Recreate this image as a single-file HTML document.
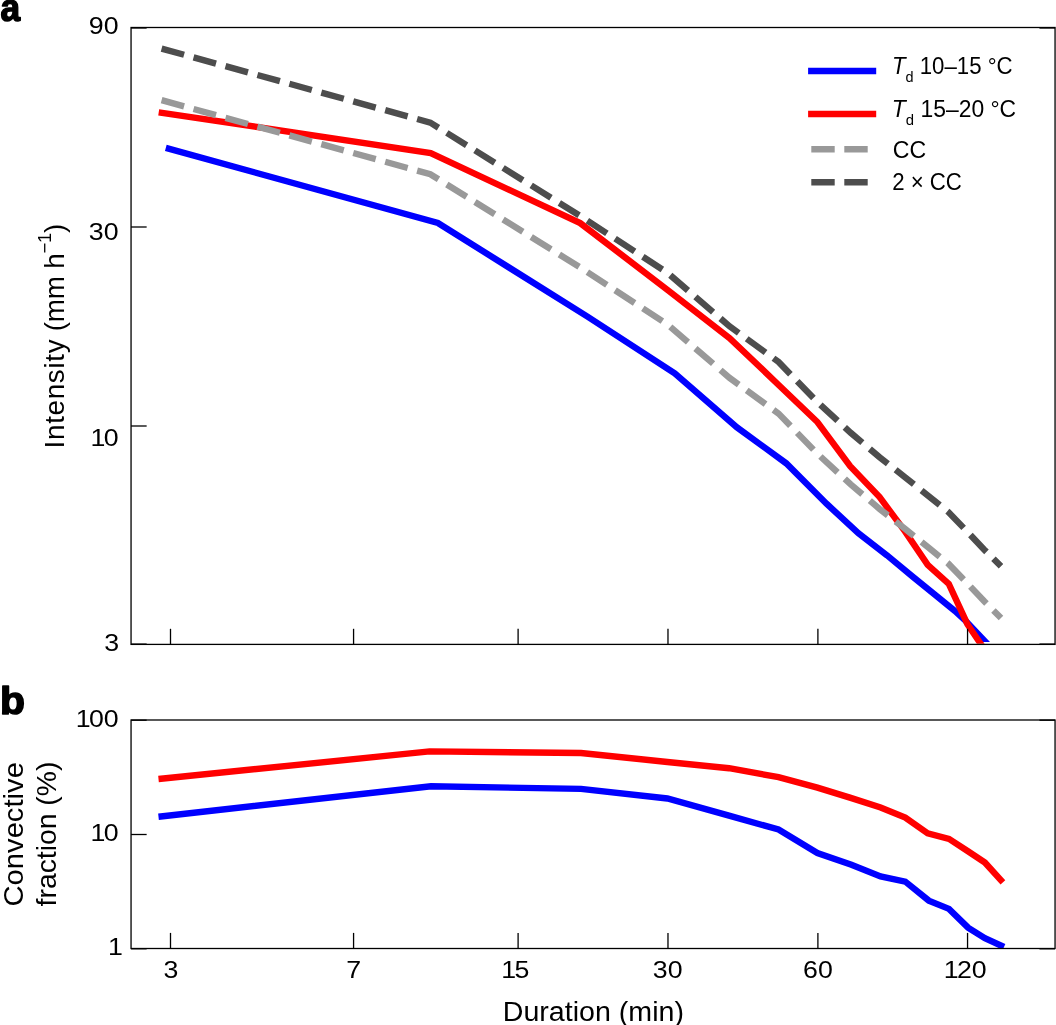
<!DOCTYPE html>
<html lang="en"><head><meta charset="utf-8"><title>Intensity and convective fraction versus duration</title>
<style>html,body{margin:0;padding:0;background:#fff;overflow:hidden}svg{display:block}text{font-family:'Liberation Sans',sans-serif;fill:#000}</style></head>
<body>
<svg width="1056" height="1025" viewBox="0 0 1056 1025">
<rect width="1056" height="1025" fill="#fff"/>
<defs><clipPath id="ca"><rect x="131.05" y="27.5" width="924.00" height="616.30"/></clipPath><clipPath id="ca2"><rect x="131.05" y="27.5" width="924.00" height="614.40"/></clipPath><clipPath id="cb"><rect x="131.05" y="720.0" width="924.00" height="227.90"/></clipPath></defs>
<g>
<polyline points="165.8,147.9 437.9,223.0 587.5,316.6 674.7,373.3 737.0,427.4 786.2,463.3 826.5,503.7 858.5,533.3 887.1,555.4 912.5,576.5 935.3,595.0 954.9,611.0 966.0,621.2 992.0,648.8" fill="none" stroke="#0000ff" stroke-width="6.4" stroke-linejoin="miter" stroke-linecap="butt" clip-path="url(#ca2)"/>
<polyline points="158.7,112.3 430.7,153.0 580.2,223.1 667.6,290.0 729.6,338.1 778.4,384.7 817.4,422.0 850.2,466.2 879.6,497.1 905.0,531.4 927.7,564.8 948.8,583.9 967.4,624.2 985.3,650.6" fill="none" stroke="#ff0000" stroke-width="6.4" stroke-linejoin="miter" stroke-linecap="butt" clip-path="url(#ca)"/>
<polyline points="161.6,100.2 430.3,174.2 580.2,267.5 667.7,324.6 729.6,377.9 778.6,413.6 817.4,453.7 850.7,484.4 879.6,508.9 905.0,528.8 927.8,547.0 948.4,563.7 967.2,583.2 984.5,601.5 1001.0,617.9" fill="none" stroke="#999999" stroke-width="6.4" stroke-linejoin="miter" stroke-linecap="butt" stroke-dasharray="23.3 9.83" stroke-dashoffset="0" clip-path="url(#ca)"/>
<polyline points="161.6,48.6 430.3,122.6 580.2,215.9 667.7,273.0 729.6,326.3 778.6,362.0 817.4,402.1 850.7,432.8 879.6,457.3 905.0,477.2 927.8,495.4 948.4,512.1 967.2,531.6 984.5,549.9 1001.0,566.3" fill="none" stroke="#4d4d4d" stroke-width="6.4" stroke-linejoin="miter" stroke-linecap="butt" stroke-dasharray="23.3 9.83" stroke-dashoffset="0" clip-path="url(#ca)"/>
</g>
<g>
<polyline points="158.5,816.7 431.0,786.2 581.0,788.9 667.4,798.5 729.0,815.7 778.5,829.5 817.4,853.0 851.4,864.7 880.6,876.4 905.3,881.6 928.8,900.6 949.0,908.9 968.1,927.6 984.9,938.1 1004.0,947.0" fill="none" stroke="#0000ff" stroke-width="6.4" stroke-linejoin="miter" stroke-linecap="butt" clip-path="url(#cb)"/>
<polyline points="158.5,779.0 429.6,751.4 581.0,753.0 667.4,762.0 729.1,768.2 778.5,777.2 817.4,787.6 850.7,797.9 880.6,807.5 905.3,817.6 927.7,833.3 949.0,838.9 967.2,850.8 984.9,862.5 1002.9,882.4" fill="none" stroke="#ff0000" stroke-width="6.4" stroke-linejoin="miter" stroke-linecap="butt" clip-path="url(#cb)"/>
</g>
<rect x="131.05" y="27.5" width="924.00" height="616.90" fill="none" stroke="#000" stroke-width="1.3"/><line x1="170.5" y1="644.4" x2="170.5" y2="628.8" stroke="#000" stroke-width="1.3"/><line x1="353.57" y1="644.4" x2="353.57" y2="628.8" stroke="#000" stroke-width="1.3"/><line x1="518.1" y1="644.4" x2="518.1" y2="628.8" stroke="#000" stroke-width="1.3"/><line x1="667.98" y1="644.4" x2="667.98" y2="628.8" stroke="#000" stroke-width="1.3"/><line x1="817.9" y1="644.4" x2="817.9" y2="628.8" stroke="#000" stroke-width="1.3"/><line x1="967.55" y1="644.4" x2="967.55" y2="628.8" stroke="#000" stroke-width="1.3"/><line x1="131.05" y1="28.0" x2="146.65" y2="28.0" stroke="#000" stroke-width="1.3"/><line x1="1055.05" y1="28.0" x2="1039.45" y2="28.0" stroke="#000" stroke-width="1.3"/><line x1="131.05" y1="227.0" x2="146.65" y2="227.0" stroke="#000" stroke-width="1.3"/><line x1="131.05" y1="426.0" x2="146.65" y2="426.0" stroke="#000" stroke-width="1.3"/><line x1="131.05" y1="644.1" x2="146.65" y2="644.1" stroke="#000" stroke-width="1.3"/><line x1="1055.05" y1="644.1" x2="1039.45" y2="644.1" stroke="#000" stroke-width="1.3"/>
<rect x="131.05" y="720.0" width="924.00" height="228.50" fill="none" stroke="#000" stroke-width="1.3"/><line x1="170.5" y1="948.5" x2="170.5" y2="932.9" stroke="#000" stroke-width="1.3"/><line x1="353.57" y1="948.5" x2="353.57" y2="932.9" stroke="#000" stroke-width="1.3"/><line x1="518.1" y1="948.5" x2="518.1" y2="932.9" stroke="#000" stroke-width="1.3"/><line x1="667.98" y1="948.5" x2="667.98" y2="932.9" stroke="#000" stroke-width="1.3"/><line x1="817.9" y1="948.5" x2="817.9" y2="932.9" stroke="#000" stroke-width="1.3"/><line x1="967.55" y1="948.5" x2="967.55" y2="932.9" stroke="#000" stroke-width="1.3"/><line x1="131.05" y1="720.2" x2="146.65" y2="720.2" stroke="#000" stroke-width="1.3"/><line x1="1055.05" y1="720.2" x2="1039.45" y2="720.2" stroke="#000" stroke-width="1.3"/><line x1="131.05" y1="834.5" x2="146.65" y2="834.5" stroke="#000" stroke-width="1.3"/><line x1="131.05" y1="948.8" x2="146.65" y2="948.8" stroke="#000" stroke-width="1.3"/><line x1="1055.05" y1="948.8" x2="1039.45" y2="948.8" stroke="#000" stroke-width="1.3"/>
<line x1="808.1" y1="71.0" x2="876.2" y2="71.0" stroke="#0000ff" stroke-width="6.4"/>
<line x1="808.1" y1="114.0" x2="876.2" y2="114.0" stroke="#ff0000" stroke-width="6.4"/>
<line x1="811.3" y1="149.2" x2="876" y2="149.2" stroke="#999999" stroke-width="6.4" stroke-dasharray="23.4 9.6"/>
<line x1="811.3" y1="182.3" x2="876" y2="182.3" stroke="#4d4d4d" stroke-width="6.4" stroke-dasharray="23.4 9.6"/>
<text transform="translate(88.85 33.91) scale(1.1100 1.0017)" font-size="24.1" x="0.00 13.40">90</text>
<text transform="translate(88.85 239.91) scale(1.1100 1.0017)" font-size="24.1" x="0.00 13.40">30</text>
<text transform="translate(88.85 446.10) scale(1.1100 1.0011)" font-size="24.1" x="1.44 13.40">10</text>
<text transform="translate(104.20 650.83) scale(1.1100 0.9923)" font-size="24.1" x="0.00">3</text>
<text transform="translate(74.07 726.96) scale(1.1100 1.0029)" font-size="24.1" x="1.44 13.40 26.81">100</text>
<text transform="translate(88.95 841.06) scale(1.1100 1.0029)" font-size="24.1" x="1.44 13.40">10</text>
<text transform="translate(108.00 954.95) scale(1.1100 0.9853)" font-size="24.1" x="0.00">1</text>
<text transform="translate(163.40 978.06) scale(1.1100 0.9970)" font-size="24.1" x="0.00">3</text>
<text transform="translate(346.20 978.15) scale(1.1100 0.9970)" font-size="24.1" x="0.00">7</text>
<text transform="translate(499.55 978.06) scale(1.1100 0.9970)" font-size="24.1" x="1.44 13.40">15</text>
<text transform="translate(652.80 978.06) scale(1.1100 0.9970)" font-size="24.1" x="0.00 13.40">30</text>
<text transform="translate(803.05 978.06) scale(1.1100 0.9970)" font-size="24.1" x="0.00 13.40">60</text>
<text transform="translate(942.07 978.06) scale(1.1100 0.9970)" font-size="24.1" x="1.44 13.40 26.81">120</text>
<text transform="translate(502.76 1020.8) scale(1.0408 1)" font-size="27.5">Duration (min)</text>
<text transform="translate(64.0 448.40) rotate(-90) scale(0.9993 1)" font-size="27.8"><tspan letter-spacing="0.69">Intensity</tspan><tspan letter-spacing="-0.2"> (mm h<tspan font-size="18.5" dy="-12.9">−1</tspan><tspan dy="12.9">)</tspan></tspan></text>
<text transform="translate(23.4 906.55) rotate(-90) scale(1.0324 1)" font-size="28.3">Convective</text>
<text transform="translate(56.4 906.40) rotate(-90) scale(1.0007 1)" font-size="28.3">fraction (%)</text>
<text transform="translate(891.90 73.9) scale(0.9341 1)" font-size="23.8"><tspan font-style="italic">T</tspan><tspan font-size="15.5" dy="7.8">d</tspan><tspan dy="-7.8"> 10–15 °C</tspan></text>
<text transform="translate(891.84 116.8) scale(0.9619 1)" font-size="23.8"><tspan font-style="italic">T</tspan><tspan font-size="15.5" dy="7.8">d</tspan><tspan dy="-7.8"> 15–20 °C</tspan></text>
<text transform="translate(892.69 158.1) scale(0.9719 1)" font-size="23.8">CC</text>
<text transform="translate(892.13 189.85) scale(0.9338 1)" font-size="23.8">2 × CC</text>
<text transform="translate(0.54 20.75) scale(0.9136 1)" font-size="38.6" font-weight="bold" stroke="#000" stroke-width="1.5" stroke-linejoin="round">a</text>
<text transform="translate(-0.09 714.05) scale(1.0590 1)" font-size="38.6" font-weight="bold" stroke="#000" stroke-width="1.5" stroke-linejoin="round">b</text>
</svg>
</body></html>
